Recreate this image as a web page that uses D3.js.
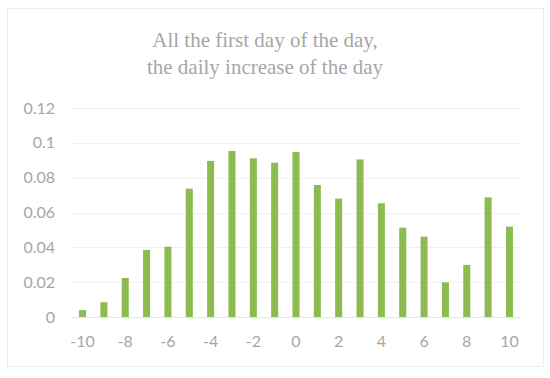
<!DOCTYPE html>
<html lang="en">
<head>
  <meta charset="UTF-8">
  <title>Daily increase</title>
  <script src="https://d3js.org/d3.v7.min.js"></script>
  <style>
    body { margin: 0; background: #fff; }
    .tick text { font-family: Lato, "Open Sans", sans-serif; font-size: 16px; fill: #a6a6a6; }
    .title { font-family: "Liberation Serif", serif; font-size: 21px; fill: #a6a6a6; }
  </style>
</head>
<body>
  <script>
    // data
    const categories = [-10, -9, -8, -7, -6, -5, -4, -3, -2, -1, 0, 1, 2, 3, 4, 5, 6, 7, 8, 9, 10];
    const values = [0.004, 0.0085, 0.0224, 0.0385, 0.0404, 0.0737, 0.0896, 0.0953, 0.0911, 0.0886,
                    0.0947, 0.0758, 0.068, 0.0905, 0.0653, 0.0513, 0.0461, 0.0199, 0.0299, 0.0687, 0.0519];
    const yTicks = [0, 0.02, 0.04, 0.06, 0.08, 0.1, 0.12];
    const xTickLabels = [-10, -8, -6, -4, -2, 0, 2, 4, 6, 8, 10];
    const titleLines = ["All the first day of the day,", "the daily increase of the day"];

    const width = 550, height = 378;
    const margin = { top: 108, right: 30, bottom: 61, left: 72 };
    const innerW = width - margin.left - margin.right;
    const innerH = height - margin.top - margin.bottom;

    const svg = d3.select("body").append("svg")
      .attr("width", width)
      .attr("height", height);

    // chart border
    svg.append("rect")
      .attr("x", 7.5).attr("y", 8.5)
      .attr("width", 536).attr("height", 358)
      .attr("fill", "none")
      .attr("stroke", "#ececec");

    // title
    svg.append("text")
      .attr("class", "title")
      .attr("text-anchor", "middle")
      .selectAll("tspan")
      .data(titleLines)
      .enter().append("tspan")
      .attr("x", 265)
      .attr("y", (d, i) => 47 + i * 27)
      .text(d => d);

    const g = svg.append("g").attr("transform", `translate(${margin.left},${margin.top})`);

    const x = d3.scaleBand().domain(categories).range([0, innerW]).paddingInner(0.67).paddingOuter(0.33);
    const y = d3.scaleLinear().domain([0, 0.12]).range([innerH, 0]);

    // gridlines
    g.append("g")
      .selectAll("line")
      .data(yTicks)
      .enter().append("line")
      .attr("x1", 0).attr("x2", innerW)
      .attr("y1", d => Math.round(y(d)) + 0.5)
      .attr("y2", d => Math.round(y(d)) + 0.5)
      .attr("stroke", d => d === 0 ? "#e6e6e6" : "#f0f0f0");

    // y axis
    g.append("g")
      .call(d3.axisLeft(y).tickValues(yTicks).tickSize(0).tickPadding(17).tickFormat(d => String(d)))
      .call(a => a.select(".domain").remove());

    // x axis
    g.append("g")
      .attr("transform", `translate(0,${innerH})`)
      .call(d3.axisBottom(x).tickValues(xTickLabels).tickSize(0).tickPadding(19))
      .call(a => a.select(".domain").remove());

    // bars
    g.selectAll(".bar")
      .data(values)
      .enter().append("rect")
      .attr("class", "bar")
      .attr("x", (d, i) => x(categories[i]))
      .attr("y", d => y(d))
      .attr("width", x.bandwidth())
      .attr("height", d => innerH - y(d))
      .attr("fill", "#8cbb52");
  </script>
</body>
</html>
